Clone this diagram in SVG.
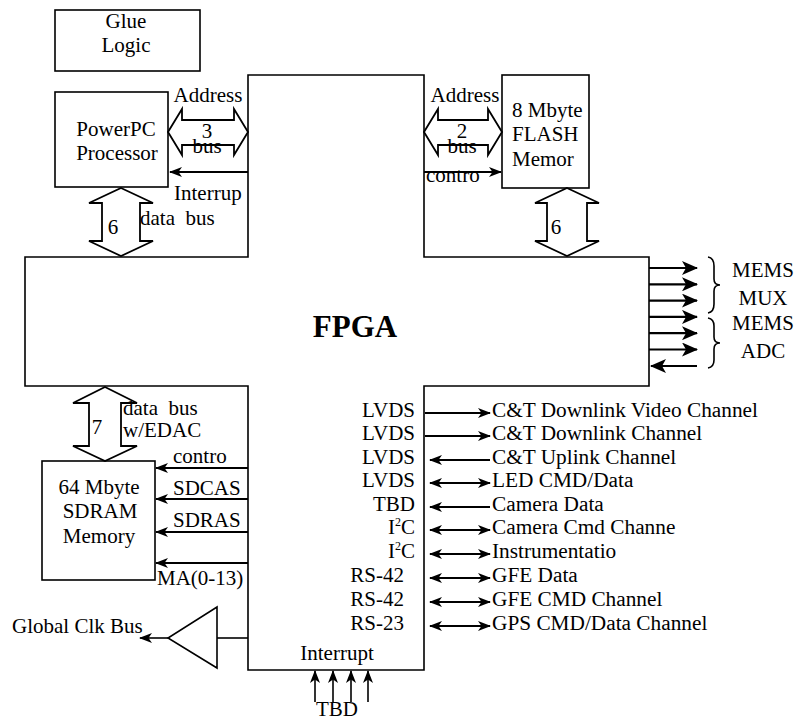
<svg xmlns="http://www.w3.org/2000/svg" width="799" height="724" viewBox="0 0 799 724">
<defs>
<style>
.t{font-family:"Liberation Serif","Times New Roman",serif;font-size:21px;fill:#000}
.m{text-anchor:middle}
.e{text-anchor:end}
.box{fill:#fff;stroke:#000;stroke-width:1.6}
.ln{stroke:#000;stroke-width:2.2;fill:none}
.blk{fill:#fff;stroke:#000;stroke-width:1.8;stroke-linejoin:miter}
.sup{font-size:12px}
</style>
<marker id="ah" viewBox="0 0 13 10" markerUnits="userSpaceOnUse" markerWidth="13" markerHeight="10" refX="12" refY="5" orient="auto-start-reverse">
<path d="M0,0 L13,5 L0,10 L3.5,5 Z" fill="#000"/>
</marker>
<marker id="ahL" viewBox="0 0 16 14" markerUnits="userSpaceOnUse" markerWidth="16" markerHeight="14" refX="15" refY="7" orient="auto-start-reverse">
<path d="M0,0 L16,7 L0,14 L4,7 Z" fill="#000"/>
</marker>
</defs>
<rect width="799" height="724" fill="#fff"/>

<g id="fpga">
<path class="box" d="M248,75 L424,75 L424,257 L649,257 L649,386 L424,386 L424,670 L248,670 L248,386 L25,386 L25,257 L248,257 Z"/>
<text class="t m" x="355" y="337" style="font-weight:bold;font-size:31px">FPGA</text>
<text class="t m" x="337" y="660">Interrupt</text>
<text class="t e" x="415" y="417">LVDS</text>
<text class="t e" x="415" y="440">LVDS</text>
<text class="t e" x="415" y="464">LVDS</text>
<text class="t e" x="415" y="487">LVDS</text>
<text class="t e" x="415" y="511">TBD</text>
<text class="t e" x="415" y="534">I<tspan class="sup" dy="-8">2</tspan><tspan dy="8">C</tspan></text>
<text class="t e" x="415" y="558">I<tspan class="sup" dy="-8">2</tspan><tspan dy="8">C</tspan></text>
<text class="t e" x="404" y="582">RS-42</text>
<text class="t e" x="404" y="606">RS-42</text>
<text class="t e" x="404" y="630">RS-23</text>
</g>

<g id="glue">
<rect class="box" x="55" y="10" width="145" height="61"/>
<text class="t m" x="126" y="28">Glue</text>
<text class="t m" x="126" y="52">Logic</text>
</g>

<g id="powerpc">
<rect class="box" x="55" y="92" width="113" height="95"/>
<text class="t m" x="116" y="136">PowerPC</text>
<text class="t m" x="117" y="160">Processor</text>
</g>

<g id="flash">
<rect class="box" x="502" y="75" width="87" height="113"/>
<text class="t" x="512" y="117">8 Mbyte</text>
<text class="t" x="512" y="141">FLASH</text>
<text class="t" x="512" y="166">Memor</text>
</g>

<g id="sdram">
<rect class="box" x="42" y="461" width="113" height="119"/>
<text class="t m" x="99" y="494">64 Mbyte</text>
<text class="t m" x="100" y="518">SDRAM</text>
<text class="t m" x="99" y="543">Memory</text>
</g>

<g id="clk-buffer">
<path class="box" d="M217,607 L217,668 L168,638 Z"/>
</g>

<g id="mems-labels">
<path class="ln" style="stroke-width:1.6" d="M708,257 Q714,258 714,266 L714,279 Q714,285 720,285 Q714,285 714,291 L714,304 Q714,312 708,313"/>
<path class="ln" style="stroke-width:1.6" d="M708,318 Q714,319 714,326 L714,337 Q714,343 720,343 Q714,343 714,349 L714,360 Q714,367 708,368"/>
<text class="t m" x="763" y="277">MEMS</text>
<text class="t m" x="763" y="305">MUX</text>
<text class="t m" x="763" y="330">MEMS</text>
<text class="t m" x="763" y="358">ADC</text>
</g>

<g id="connectors">
<path class="blk" d="M168,132 L182,109 L182,120 L234,120 L234,109 L248,132 L234,155 L234,145 L182,145 L182,155 Z"/>
<text class="t m" x="208" y="102">Address</text>
<text class="t m" x="207" y="138">3</text>
<text class="t m" x="207" y="153">bus</text>
<line class="ln" x1="248" y1="172" x2="170" y2="172" marker-end="url(#ah)"/>
<text class="t" x="174" y="200">Interrup</text>
<path class="blk" d="M121,188 L153,203 L140,203 L140,241 L153,241 L121,256 L89,241 L102,241 L102,203 L89,203 Z"/>
<text class="t m" x="113" y="234">6</text>
<text class="t" x="140" y="225" xml:space="preserve">data  bus</text>
<path class="blk" d="M424,132 L438,109 L438,120 L488,120 L488,109 L502,132 L488,155 L488,145 L438,145 L438,155 Z"/>
<text class="t m" x="465" y="102">Address</text>
<text class="t m" x="462" y="138">2</text>
<text class="t m" x="462" y="153">bus</text>
<line class="ln" x1="424" y1="172" x2="501" y2="172" marker-end="url(#ah)"/>
<text class="t" x="426" y="182">contro</text>
<path class="blk" d="M567,188 L599,203 L587,203 L587,241 L599,241 L567,256 L535,241 L547,241 L547,203 L535,203 Z"/>
<text class="t m" x="556" y="234">6</text>
<path class="blk" d="M105,387 L137,403 L121,403 L121,446 L137,446 L105,461 L73,446 L89,446 L89,403 L73,403 Z"/>
<text class="t m" x="97" y="434">7</text>
<text class="t" x="123" y="415" xml:space="preserve">data  bus</text>
<text class="t" x="123" y="437">w/EDAC</text>
<line class="ln" x1="248" y1="468" x2="156" y2="468" marker-end="url(#ah)"/>
<line class="ln" x1="248" y1="499" x2="156" y2="499" marker-end="url(#ah)"/>
<line class="ln" x1="248" y1="532" x2="156" y2="532" marker-end="url(#ah)"/>
<line class="ln" x1="248" y1="563" x2="156" y2="563" marker-end="url(#ah)"/>
<text class="t" x="173" y="463">contro</text>
<text class="t" x="173" y="495">SDCAS</text>
<text class="t" x="173" y="527">SDRAS</text>
<text class="t" x="157" y="585">MA(0-13)</text>
<line class="ln" style="stroke-width:1.6" x1="248" y1="638" x2="217" y2="638"/>
<line class="ln" style="stroke-width:1.6" x1="168" y1="638" x2="140" y2="638" marker-end="url(#ah)"/>
<text class="t" x="12" y="633">Global Clk Bus</text>
<line class="ln" style="stroke-width:1.6" x1="315" y1="702" x2="315" y2="671" marker-end="url(#ah)"/>
<line class="ln" style="stroke-width:1.6" x1="333" y1="702" x2="333" y2="671" marker-end="url(#ah)"/>
<line class="ln" style="stroke-width:1.6" x1="351" y1="702" x2="351" y2="671" marker-end="url(#ah)"/>
<line class="ln" style="stroke-width:1.6" x1="368" y1="702" x2="368" y2="671" marker-end="url(#ah)"/>
<text class="t m" x="337" y="716">TBD</text>
<line class="ln" x1="649" y1="268" x2="697" y2="268" marker-end="url(#ahL)"/>
<line class="ln" x1="649" y1="284.3" x2="697" y2="284.3" marker-end="url(#ahL)"/>
<line class="ln" x1="649" y1="300.6" x2="697" y2="300.6" marker-end="url(#ahL)"/>
<line class="ln" x1="649" y1="316.9" x2="697" y2="316.9" marker-end="url(#ahL)"/>
<line class="ln" x1="649" y1="333.2" x2="697" y2="333.2" marker-end="url(#ahL)"/>
<line class="ln" x1="649" y1="349.5" x2="697" y2="349.5" marker-end="url(#ahL)"/>
<line class="ln" x1="697" y1="366" x2="651" y2="366" marker-end="url(#ahL)"/>
<line class="ln" x1="425" y1="413" x2="490" y2="413" marker-end="url(#ah)"/>
<line class="ln" x1="425" y1="436" x2="490" y2="436" marker-end="url(#ah)"/>
<line class="ln" x1="490" y1="460" x2="430" y2="460" marker-end="url(#ah)"/>
<line class="ln" x1="430" y1="483" x2="490" y2="483" marker-start="url(#ah)" marker-end="url(#ah)"/>
<line class="ln" x1="490" y1="507" x2="430" y2="507" marker-end="url(#ah)"/>
<line class="ln" x1="430" y1="530" x2="490" y2="530" marker-start="url(#ah)" marker-end="url(#ah)"/>
<line class="ln" x1="430" y1="554" x2="490" y2="554" marker-start="url(#ah)" marker-end="url(#ah)"/>
<line class="ln" x1="430" y1="578" x2="490" y2="578" marker-start="url(#ah)" marker-end="url(#ah)"/>
<line class="ln" x1="430" y1="602" x2="490" y2="602" marker-start="url(#ah)" marker-end="url(#ah)"/>
<line class="ln" x1="430" y1="626" x2="490" y2="626" marker-start="url(#ah)" marker-end="url(#ah)"/>
<g style="font-size:21.3px">
<text class="t" x="492" y="417" style="font-size:21.3px">C&amp;T Downlink Video Channel</text>
<text class="t" x="492" y="440" style="font-size:21.3px">C&amp;T Downlink Channel</text>
<text class="t" x="492" y="464" style="font-size:21.3px">C&amp;T Uplink Channel</text>
<text class="t" x="492" y="487" style="font-size:21.3px">LED CMD/Data</text>
<text class="t" x="492" y="511" style="font-size:21.3px">Camera Data</text>
<text class="t" x="492" y="534" style="font-size:21.3px">Camera Cmd Channe</text>
<text class="t" x="492" y="558" style="font-size:21.3px">Instrumentatio</text>
<text class="t" x="492" y="582" style="font-size:21.3px">GFE Data</text>
<text class="t" x="492" y="606" style="font-size:21.3px">GFE CMD Channel</text>
<text class="t" x="492" y="630" style="font-size:21.3px">GPS CMD/Data Channel</text>
</g>
</g>
</svg>
